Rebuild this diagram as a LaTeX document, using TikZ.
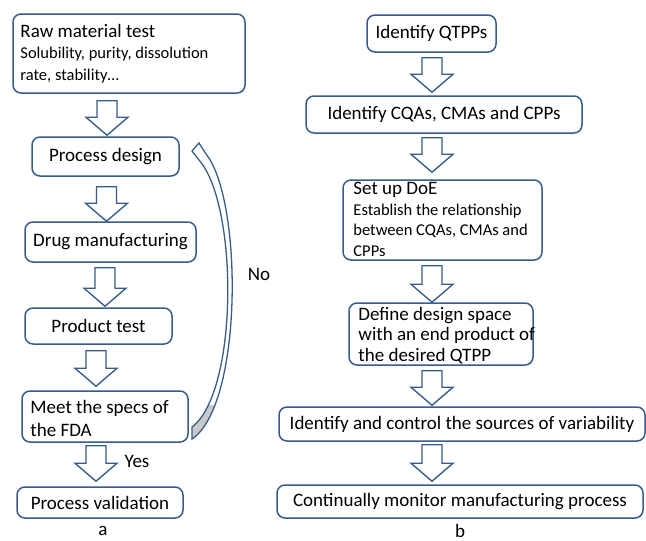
\documentclass[tikz,border=0pt]{standalone}
\usepackage{fontspec}
\setmainfont{Carlito}
\usetikzlibrary{calc}
\definecolor{bl}{HTML}{385D8A}
\definecolor{gr}{HTML}{C9C9C9}
\tikzset{
  box/.style={draw=bl, line width=1.5pt, rounded corners=8pt, fill=white, inner sep=0pt,
    font=\fontsize{19}{21.5}\selectfont, text=black},
  txt/.style={anchor=west, align=left, inner sep=0pt, text=black},
  blk/.style={draw=bl, line width=1.4pt, fill=white, line join=miter},
  lbl/.style={font=\fontsize{19}{22}\selectfont, inner sep=0pt, text=black},
}
\newcommand\sm{\fontsize{16.5}{21.5}\selectfont}
\newcommand\barrow[5]{\draw[blk] let \p1=(#1.south), \p2=(#2.north) in
  (#3pt-10pt,\y1-#4pt) -- (#3pt+10pt,\y1-#4pt) -- (#3pt+10pt,\y2+#5pt+18pt)
  -- (#3pt+21pt,\y2+#5pt+18pt) -- (#3pt,\y2+#5pt) -- (#3pt-21pt,\y2+#5pt+18pt)
  -- (#3pt-10pt,\y2+#5pt+18pt) -- cycle;}
\begin{document}
\begin{tikzpicture}[x=1pt,y=-1pt]
\path[use as bounding box, fill=white] (0,0) rectangle (646,541);

% left column
\node[box, minimum width=232pt, minimum height=79pt] (raw) at (129,53.5) {};
\node[txt, font=\fontsize{19}{21.5}\selectfont] (rawt) at ($(raw.west)+(8,0)$)
  {Raw material test\\ \sm Solubility, purity, dissolution\\ \sm rate, stability…};
\node[box, minimum width=147pt, minimum height=39pt] (pd) at (105.5,156.5) {Process design};
\node[box, minimum width=171pt, minimum height=40pt] (dm) at (110.5,242) {Drug manufacturing};
\node[box, minimum width=147pt, minimum height=36pt] (pt) at (98.5,326) {Product test};
\node[box, minimum width=166pt, minimum height=51pt] (meet) at (105,416.5) {};
\node[txt, font=\fontsize{19}{23}\selectfont] (meett) at ($(meet.west)+(9,1.5)$)
  {Meet the specs of\\ the FDA};
\node[box, minimum width=166pt, minimum height=31pt] (pv) at (100,502.5) {Process validation};

% right column
\node[box, minimum width=129pt, minimum height=37pt] (q) at (431.5,33.5) {Identify QTPPs};
\node[box, minimum width=276pt, minimum height=37pt] (cqa) at (444,114.5) {Identify CQAs, CMAs and CPPs};
\node[box, minimum width=199pt, minimum height=80pt] (doe) at (442.5,220) {};
\node[txt, font=\fontsize{19}{20.5}\selectfont] (doet) at ($(doe.west)+(11,-0.5)$)
  {Set up DoE\\ \sm Establish the relationship\\ \sm between CQAs, CMAs and\\ \sm CPPs};
\node[box, minimum width=184pt, minimum height=62pt] (dds) at (441,334) {};
\node[txt, font=\fontsize{19}{20.5}\selectfont] (ddst) at ($(dds.west)+(10,1.5)$)
  {Define design space\\ with an end product of\\ the desired QTPP};
\node[box, minimum width=366pt, minimum height=34pt] (icv) at (462,424) {Identify and control the sources of variability};
\node[box, minimum width=366pt, minimum height=33pt] (cmp) at (460,501.5) {Continually monitor manufacturing process};

% block arrows
\barrow{raw}{pd}{107}{7}{1}
\barrow{pd}{dm}{106.5}{10}{0}
\barrow{dm}{pt}{105}{5}{1}
\barrow{pt}{meet}{96}{6}{4}
\barrow{meet}{pv}{96}{3}{5}
\barrow{q}{cqa}{432}{5}{3}
\barrow{cqa}{doe}{432}{4}{7}
\barrow{doe}{dds}{432}{5}{0}
\barrow{dds}{icv}{432}{5}{1}
\barrow{icv}{cmp}{432}{3}{3}

% curved "No" arrow from meet back to process design
\def\band{(192,439) .. controls (243,405) and (243,200) .. (206,154) -- (199,143) -- (192,151)
  -- (199,160) .. controls (238.5,205) and (238.5,392) .. (192,427) -- cycle}
\fill[white] \band;
\begin{scope}
  \clip (180,405) rectangle (250,450);
  \fill[gr] \band;
\end{scope}
\draw[draw=bl, line width=1.3pt, line join=miter] \band;

% labels
\node[lbl] (no) at (259,274) {No};
\node[lbl] (yes) at (137,461) {Yes};
\node[lbl] (la) at (103,531) {a};
\node[lbl] (lb) at (460,531) {b};
\end{tikzpicture}
\end{document}
